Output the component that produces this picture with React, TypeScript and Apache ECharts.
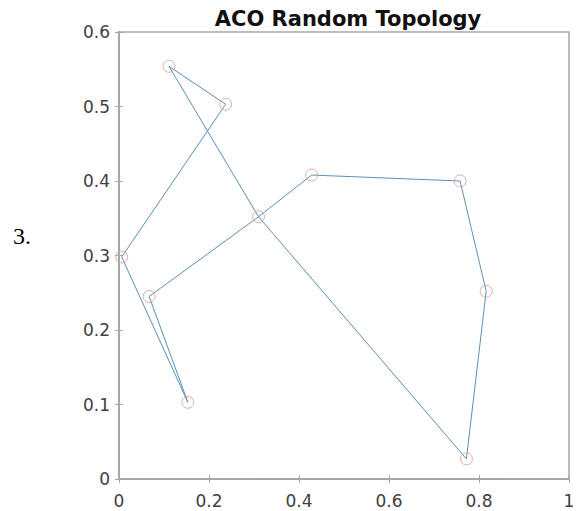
import React, { useEffect, useRef } from "react";
import * as echarts from "echarts";

const nodeX = [0.111, 0.237, 0.006, 0.067, 0.153, 0.310, 0.428, 0.758, 0.816, 0.772];
const nodeY = [0.554, 0.503, 0.298, 0.245, 0.103, 0.352, 0.408, 0.400, 0.252, 0.027];
const tourOrder = [0, 1, 2, 4, 3, 5, 6, 7, 8, 9, 5, 0];
const xTicks = [0, 0.2, 0.4, 0.6, 0.8, 1];
const yTicks = [0, 0.1, 0.2, 0.3, 0.4, 0.5, 0.6];

const fmt = (v: number) => String(Math.round(v * 10) / 10);

export default function App() {
  const ref = useRef<HTMLDivElement>(null);
  useEffect(() => {
    if (!ref.current) return;
    const chart = echarts.init(ref.current, null, { renderer: "svg" });
    const axisColor = "#a6a6a6";
    const labelStyle = { color: "#404040", fontSize: 17, fontFamily: "DejaVu Sans" };
    const tickIn = { show: true, inside: true, length: 4, lineStyle: { color: axisColor } };
    chart.setOption({
      animation: false,
      backgroundColor: "#ffffff",
      title: {
        text: "ACO Random Topology",
        left: 343,
        textAlign: "center",
        top: 3,
        textStyle: { fontSize: 21, fontWeight: "bold", color: "#111", fontFamily: "DejaVu Sans" },
      },
      graphic: [
        {
          type: "text",
          left: 13,
          top: 224,
          style: { text: "3.", font: "24px 'Liberation Serif'", fill: "#000" },
        },
      ],
      grid: { left: 119, right: 9, top: 32, bottom: 32, show: true, borderColor: axisColor, borderWidth: 1.5, backgroundColor: "#fff" },
      xAxis: [
        {
          type: "value", min: 0, max: 1, interval: 0.2, position: "bottom",
          axisLine: { show: true, lineStyle: { color: axisColor, width: 1.5 } },
          axisTick: tickIn, splitLine: { show: false },
          axisLabel: { ...labelStyle, margin: 13, formatter: (v: number) => (xTicks.some((t) => Math.abs(t - v) < 1e-9) ? fmt(v) : "") },
        },
        {
          type: "value", min: 0, max: 1, interval: 0.2, position: "top",
          axisLine: { show: true, lineStyle: { color: axisColor, width: 1.5 } },
          axisTick: tickIn, splitLine: { show: false }, axisLabel: { show: false },
        },
      ],
      yAxis: [
        {
          type: "value", min: 0, max: 0.6, interval: 0.1, position: "left",
          axisLine: { show: true, lineStyle: { color: axisColor, width: 1.5 } },
          axisTick: tickIn, splitLine: { show: false },
          axisLabel: { ...labelStyle, margin: 9, formatter: (v: number) => (yTicks.some((t) => Math.abs(t - v) < 1e-9) ? fmt(v) : "") },
        },
        {
          type: "value", min: 0, max: 0.6, interval: 0.1, position: "right",
          axisLine: { show: true, lineStyle: { color: axisColor, width: 1.5 } },
          axisTick: tickIn, splitLine: { show: false }, axisLabel: { show: false },
        },
      ],
      series: [
        {
          type: "line",
          data: tourOrder.map((i) => [nodeX[i], nodeY[i]]),
          showSymbol: false,
          symbol: "none",
          lineStyle: { color: "#5a8fbb", width: 1 },
          silent: true,
          z: 3,
        },
        {
          type: "scatter",
          data: nodeX.map((x, i) => [x, nodeY[i]]),
          symbol: "circle",
          symbolSize: 12,
          itemStyle: { color: "rgba(0,0,0,0)", borderColor: "#d99a8a", borderWidth: 1 },
          silent: true,
          z: 4,
        },
      ],
    });
    return () => chart.dispose();
  }, []);
  return (
    <div
      ref={ref}
      style={{ position: "fixed", left: 0, top: 0, width: 578, height: 511, background: "#fff" }}
    />
  );
}
